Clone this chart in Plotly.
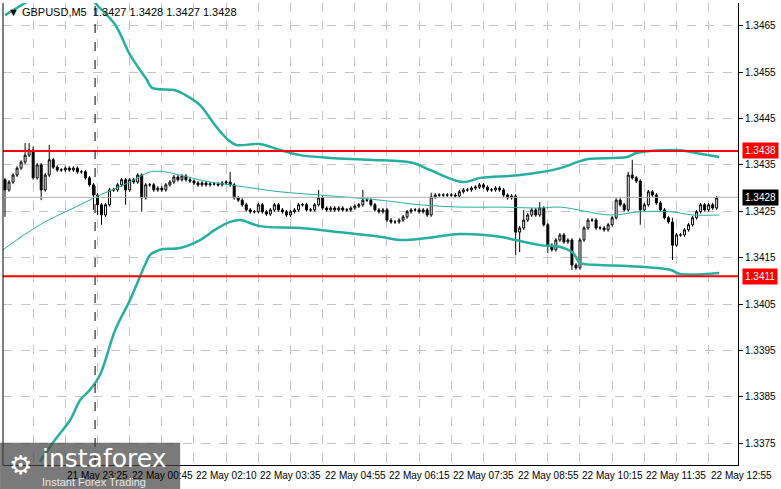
import plotly.graph_objects as go

# Prices expressed in pips above 1.3400 (price = 1.34 + v/10000)
closes = [29.6,31.3,32.8,34.3,35.6,37.1,38.2,32.2,35.0,29.6,
          32.8,36.1,34.5,33.9,33.9,34.3,33.9,34.3,33.5,33.5,
          32.2,30.7,28.5,26.4,24.2,26.4,29.6,29.6,30.7,31.8,
          29.6,31.8,31.3,32.8,27.9,30.7,30.7,29.6,30.0,29.6,
          30.7,31.3,32.4,31.8,32.6,31.8,31.5,31.1,30.7,31.1,
          30.7,30.9,30.9,30.7,31.1,31.3,30.7,27.9,27.4,26.4,
          25.3,24.9,24.9,26.4,24.9,24.4,25.3,26.4,25.3,24.9,
          24.2,24.9,25.3,26.4,26.4,25.3,25.3,26.4,27.9,25.7,
          25.3,25.7,25.3,25.7,25.3,25.3,25.7,26.1,26.4,27.4,
          27.4,26.4,25.3,24.9,25.3,23.1,22.7,22.7,23.1,23.8,
          24.9,25.3,25.3,24.9,25.3,24.2,28.1,28.5,28.5,28.5,
          28.5,28.5,28.3,29.2,29.6,29.6,30.0,30.2,30.7,30.2,
          29.6,29.6,30.0,29.6,28.5,27.9,28.3,20.5,21.4,23.1,
          24.2,25.3,24.2,25.7,22.1,17.7,16.7,18.8,19.9,18.4,
          18.8,13.4,12.8,18.8,21.4,23.1,23.1,21.4,21.4,21.0,
          22.1,23.6,27.4,26.4,25.3,32.8,32.2,31.5,25.3,26.4,
          29.2,28.5,26.8,25.3,23.6,22.7,17.7,19.9,19.9,21.0,
          22.1,23.6,24.9,26.4,25.3,26.4,25.7,27.9]
first_open = 31.8
wick = 0.4
high_spikes = {5:39.7, 6:39.7, 7:39.0, 11:39.3, 56:33.5, 78:29.6, 89:29.6, 106:29.0,
               129:25.3, 133:27.0, 156:36.1, 155:33.5, 166:23.6}
low_spikes = {0:23.8, 9:27.4, 22:25.3, 23:24.2, 24:22.1, 30:26.4, 34:24.9, 127:15.6,
              128:16.2, 141:12.4, 142:12.4, 158:22.1, 166:14.5, 135:16.0}

upper_idx = [0,5,8,14,20,22.4,27.4,31.1,35.3,36.6,42.3,44.8,48.5,52.2,55.5,57.5,63.4,68.4,73.4,80.8,90.8,101.5,105.7,113.9,118.2,128.1,138.1,143,145.5,154.7,157.2,167.2,172.9,177.6]
upper_val = [67.3,69.9,71.5,74,72.5,69.9,65.2,58.7,53.3,51.6,51.1,50.1,47.9,43.6,40.4,39.3,39.5,38.2,37.1,36.5,36.1,35.4,33.9,31.3,32.2,32.8,34.3,35.8,36.3,36.7,37.6,38.2,37.4,36.7]
lower_idx = [8.7,12.4,16.2,18.7,21.1,23.6,27.4,31.1,34.8,36.1,38.6,43.5,48.5,52.2,56.0,58.5,63.4,73.4,83.3,93.3,98.3,105.7,113.2,123.1,126.9,133.1,138.1,141.3,143.0,148.0,154.7,165.4,167.9,177.6]
lower_val = [-29,-24.3,-20,-15.7,-13.5,-10.3,-0.6,5.9,13.4,15.6,16.7,17.1,18.8,21.0,22.7,23.1,21.8,21.4,20.5,19.5,18.8,19.3,20.1,19.5,18.8,17.7,17.3,16.0,13.9,13.4,13.2,12.4,11.5,11.7]
ma_idx = [-0.5,8.7,18.7,23.6,31.1,36.1,39.8,43.5,51.0,56.0,68.4,78.4,93.3,103.2,113.2,123.1,133.1,138.1,150.5,158.0,165.4,171.1,177.6]
ma_val = [16.7,22.1,26.4,28.5,31.3,33.5,33.5,32.8,31.3,30.7,29.2,28.5,27.4,26.4,25.9,25.9,25.7,25.9,24.2,24.9,24.9,24.2,24.2]

tick_idx = [-1,15,31,47,63,79,95,111,127,143,159,175]
tick_text = ["21 May 2026","21 May 23:25","22 May 00:45","22 May 02:10","22 May 03:35","22 May 04:55","22 May 06:15",
             "22 May 07:35","22 May 08:55","22 May 10:15","22 May 11:35","22 May 12:55"]
y_ticks = [1.3375,1.3385,1.3395,1.3405,1.3415,1.3425,1.3435,1.3445,1.3455,1.3465]
res_level, sup_level, last_price = 1.3438, 1.3411, 1.3428
separator_idx = 22.4

P = lambda v: 1.34 + v/10000
n = len(closes)
xs = list(range(n))
opens = [first_open] + closes[:-1]
highs = [high_spikes.get(i, max(opens[i], closes[i]) + wick) for i in range(n)]
lows = [low_spikes.get(i, min(opens[i], closes[i]) - wick) for i in range(n)]

FONT = "Liberation Sans"
teal = "#26AFA0"
fig = go.Figure()
fig.add_trace(go.Scatter(x=upper_idx, y=[P(v) for v in upper_val], mode="lines",
                         line=dict(color=teal, width=2.5, shape="spline"), hoverinfo="skip"))
fig.add_trace(go.Scatter(x=lower_idx, y=[P(v) for v in lower_val], mode="lines",
                         line=dict(color=teal, width=2.5, shape="spline"), hoverinfo="skip"))
fig.add_trace(go.Scatter(x=ma_idx, y=[P(v) for v in ma_val], mode="lines",
                         line=dict(color=teal, width=1, shape="spline"), hoverinfo="skip"))
fig.add_trace(go.Candlestick(x=xs, open=[P(v) for v in opens], high=[P(v) for v in highs],
                             low=[P(v) for v in lows], close=[P(v) for v in closes],
                             increasing=dict(line=dict(color="black", width=1), fillcolor="white"),
                             decreasing=dict(line=dict(color="black", width=1), fillcolor="black"),
                             whiskerwidth=0))

fig.add_hline(y=last_price, line=dict(color="#b0b0b0", width=1))
fig.add_hline(y=res_level, line=dict(color="red", width=2))
fig.add_hline(y=sup_level, line=dict(color="red", width=2))
fig.add_vline(x=separator_idx, line=dict(color="black", width=1, dash="dash"))

grid_x = [7, 15, 23, 31, 39, 47, 55, 63, 71, 79, 87, 95, 103, 111, 119, 127, 135, 143, 151, 159, 167, 175]
fig.update_layout(
    width=781, height=489, margin=dict(l=3, r=43, t=3, b=24),
    paper_bgcolor="white", plot_bgcolor="white", showlegend=False,
    font=dict(family=FONT, size=10, color="black"),
    xaxis=dict(range=[-0.5, 182.3], tickvals=grid_x, ticktext=[""]*len(grid_x),
               showgrid=True, gridcolor="#c4c4c4", griddash="dash", gridwidth=1,
               rangeslider=dict(visible=False), showline=True, linecolor="black",
               ticks="", zeroline=False),
    yaxis=dict(range=[1.33703, 1.34699], side="right", tickvals=y_ticks,
               ticktext=[f"{v:.4f}" for v in y_ticks], showgrid=True, gridcolor="#c4c4c4",
               griddash="dash", showline=True, linecolor="black", ticks="outside",
               ticklen=4, tickcolor="black", zeroline=False, tickfont=dict(size=10, family=FONT)),
)
fig.add_shape(type="line", xref="paper", yref="paper", x0=0, x1=0, y0=0, y1=1,
              line=dict(color="black", width=1))

for i, t in zip(tick_idx, tick_text):
    fig.add_annotation(x=i, y=0, xref="x", yref="paper", text=t, showarrow=False,
                       xanchor="left", yanchor="top", yshift=-3, font=dict(size=10, family=FONT))

for lvl, bg, fg in [(res_level, "red", "white"), (sup_level, "red", "white"), (last_price, "black", "white")]:
    fig.add_annotation(x=1.0, y=lvl, xref="paper", yref="y", text=f"{lvl:.4f}", showarrow=False,
                       xanchor="left", bgcolor=bg, font=dict(color=fg, size=10, family=FONT),
                       borderpad=2, xshift=4)

fig.add_annotation(x=0.004, y=0.997, xref="paper", yref="paper", showarrow=False, xanchor="left",
                   yanchor="top", text="▼ GBPUSD,M5  1.3427 1.3428 1.3427 1.3428",
                   font=dict(size=11, family=FONT))

# watermark
fig.add_shape(type="rect", xref="paper", yref="paper", x0=-0.004, x1=0.241, y0=-0.052, y1=0.048,
              fillcolor="rgba(70,70,70,0.72)", line=dict(width=0), layer="above")
fig.add_annotation(x=0.05, y=0.05, xref="paper", yref="paper", text="instaforex", showarrow=False,
                   xanchor="left", yanchor="top", font=dict(size=25, color="white", family="DejaVu Sans"))
fig.add_annotation(x=0.05, y=-0.054, xref="paper", yref="paper", text="Instant Forex Trading",
                   showarrow=False, xanchor="left", yanchor="bottom",
                   font=dict(size=11, color="#e8e8e8", family=FONT))
fig.add_annotation(x=0.005, y=0.0, xref="paper", yref="paper", text="⚙", showarrow=False,
                   xanchor="left", yanchor="middle", font=dict(size=26, color="white"))

fig.write_html("out.html", config={"displayModeBar": False},
               post_script="document.body.style.margin='0';document.body.style.overflow='hidden';")
